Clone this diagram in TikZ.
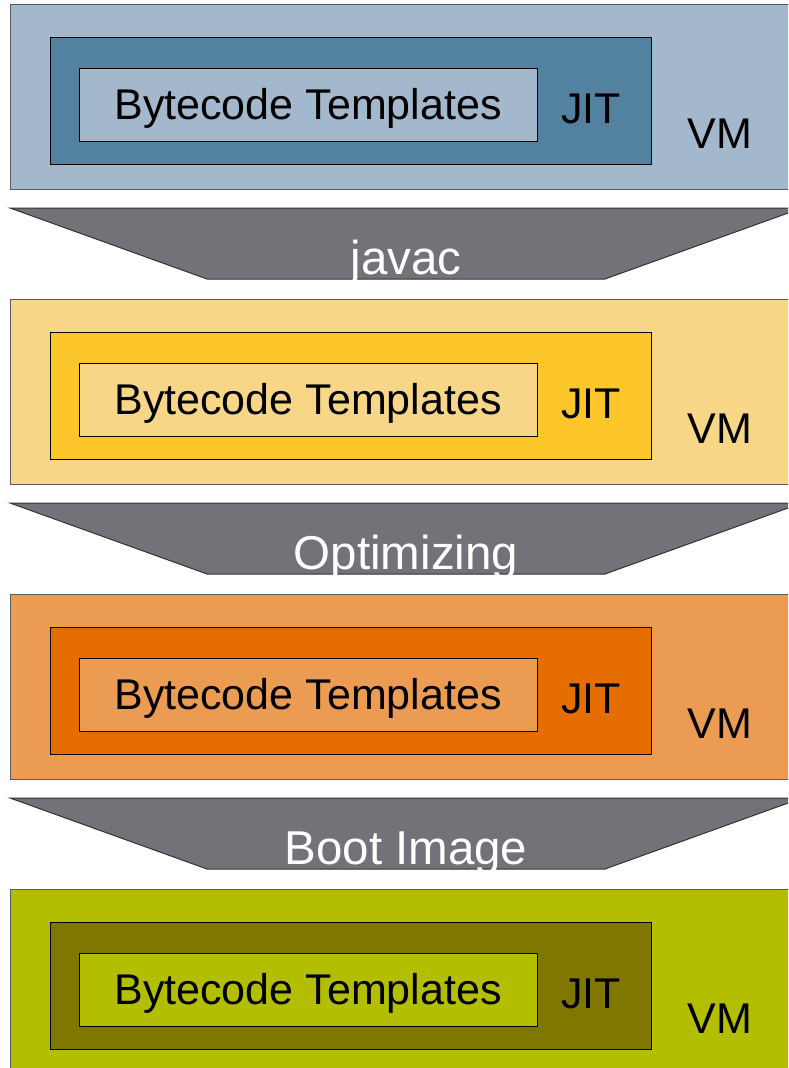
\documentclass[tikz,border=0pt]{standalone}
\usepackage{fontspec}
\setmainfont{Liberation Sans}
\definecolor{blueL}{RGB}{164,184,205}
\definecolor{blueD}{RGB}{83,130,160}
\definecolor{yelL}{RGB}{247,214,135}
\definecolor{yelD}{RGB}{253,198,42}
\definecolor{oraL}{RGB}{236,156,82}
\definecolor{oraD}{RGB}{230,110,0}
\definecolor{grnL}{RGB}{179,190,0}
\definecolor{grnD}{RGB}{128,119,0}
\definecolor{funnel}{RGB}{114,115,120}
\definecolor{edgeG}{RGB}{90,90,90}
\begin{document}
\begin{tikzpicture}[x=1pt,y=-1pt,
  vmbox/.style={draw=edgeG, line width=1pt, inner sep=0pt, anchor=north west,
    minimum width=800pt, minimum height=185pt},
  jitbox/.style={draw=black, line width=1pt, inner sep=0pt, anchor=north west,
    minimum width=601pt, minimum height=127pt},
  tplbox/.style={draw=black, line width=1pt, inner sep=0pt, anchor=north west,
    minimum width=458pt, minimum height=73pt},
  boxtext/.style={inner sep=0pt, anchor=base, font=\fontsize{43}{50}\selectfont},
  stagetext/.style={inner sep=0pt, anchor=base, text=white, font=\fontsize{47.5}{56}\selectfont},
  stage/.style={fill=funnel, draw=black!80, line width=1pt, line join=miter}]
\useasboundingbox (0,0) rectangle (788,1068);
\clip (0,0) rectangle (788,1068);
\fill[white] (0,0) rectangle (788,1068);

% one VM block per compilation stage
\foreach \i/\cl/\cd in {0/blueL/blueD, 1/yelL/yelD, 2/oraL/oraD, 3/grnL/grnD} {
  \pgfmathsetmacro\t{4+295*\i}
  \node[vmbox, fill=\cl] (vm\i) at (10,\t) {};
  \node[jitbox, fill=\cd] (jit\i) at (50,\t+33) {};
  \node[tplbox, fill=\cl] (tpl\i) at (79,\t+64) {};
  \node[boxtext] (tpltext\i) at (308,\t+115) {Bytecode Templates};
  \node[boxtext] (jittext\i) at (591,\t+119) {JIT};
  \node[boxtext] (vmtext\i) at (720,\t+144) {VM};
}

% funnels between the stages
\foreach \i/\lbl in {0/javac, 1/Optimizing, 2/Boot Image} {
  \pgfmathsetmacro\T{208+295*\i}
  \coordinate (f\i a) at (10,\T);
  \coordinate (f\i b) at (802,\T);
  \coordinate (f\i c) at (605,\T+71);
  \coordinate (f\i d) at (207,\T+71);
  \draw[stage] (f\i a) -- (f\i b) -- (f\i c) -- (f\i d) -- cycle;
  \node[stagetext] (stage\i) at (406,\T+66) {\lbl};
}
\end{tikzpicture}
\end{document}
